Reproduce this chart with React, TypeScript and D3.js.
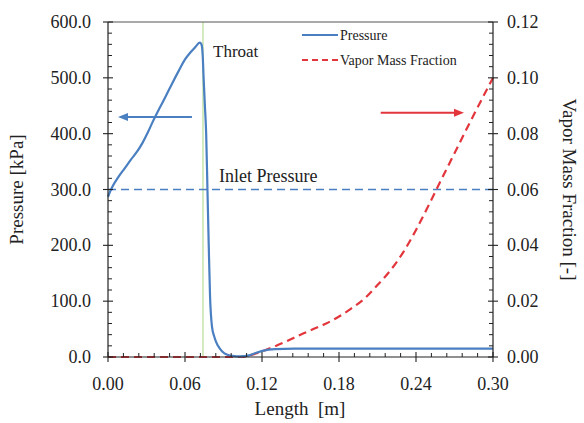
import React from "react";
import * as d3 from "d3";

// Axis ticks
const lengthTicks = [0, 0.06, 0.12, 0.18, 0.24, 0.3];
const pressureTicks = [0, 100, 200, 300, 400, 500, 600];
const fractionTicks = [0, 0.02, 0.04, 0.06, 0.08, 0.1, 0.12];

// Pressure along the nozzle [kPa]
const pressureLength = [
  0, 0.003, 0.008, 0.013, 0.018, 0.023, 0.027, 0.031, 0.035, 0.04, 0.045, 0.05,
  0.055, 0.06, 0.064, 0.068, 0.0715, 0.0728, 0.0738, 0.0745, 0.0755, 0.0765,
  0.0775, 0.0785, 0.0795, 0.081, 0.083, 0.0857, 0.089, 0.093, 0.097, 0.103,
  0.11, 0.116, 0.122, 0.13, 0.145, 0.3,
];
const pressureValues = [
  287, 303, 322, 338, 354, 369, 384, 402, 422, 445, 467, 490,
  512, 533, 545, 555, 563, 560, 540, 500, 450, 400,
  300, 200, 110, 55, 35, 20, 10, 4, 2, 1,
  3, 8, 12, 14, 15, 15,
];

// Vapor mass fraction along the nozzle [-]
const fractionLength = [
  0, 0.1, 0.105, 0.11, 0.12, 0.13, 0.14, 0.15, 0.16, 0.17, 0.18, 0.19, 0.2,
  0.21, 0.22, 0.23, 0.24, 0.25, 0.26, 0.27, 0.28, 0.29, 0.3,
];
const fractionValues = [
  0, 0, 0, 0.0005, 0.002, 0.0038, 0.0058, 0.008, 0.01, 0.012, 0.0145, 0.0175,
  0.021, 0.0258, 0.031, 0.0375, 0.0455, 0.0545, 0.0638, 0.073, 0.0822, 0.0912, 0.1,
];

const inletPressure = 300;
const throatLength = 0.074;

const BLUE = "#4a7fc1";
const RED = "#e2363c";
const FONT = '"Liberation Serif", "DejaVu Serif", "Times New Roman", Times, serif';
const TEXT = "#222";

export default function App() {
  const W = 584;
  const H = 423;
  const left = 108;
  const right = 493;
  const top = 22;
  const bottom = 357;

  const x = d3.scaleLinear().domain([0, 0.3]).range([left, right]);
  const yP = d3.scaleLinear().domain([0, 600]).range([bottom, top]);
  const yV = d3.scaleLinear().domain([0, 0.12]).range([bottom, top]);

  const pressurePts: [number, number][] = pressureLength.map((l, i) => [l, pressureValues[i]]);
  const fractionPts: [number, number][] = fractionLength.map((l, i) => [l, fractionValues[i]]);

  const pLine = d3
    .line<[number, number]>()
    .x((d) => x(d[0]))
    .y((d) => yP(d[1]))
    .curve(d3.curveMonotoneX);
  const vLine = d3
    .line<[number, number]>()
    .x((d) => x(d[0]))
    .y((d) => yV(d[1]))
    .curve(d3.curveMonotoneX);

  const minorP = d3.range(0, 601, 20).filter((v) => v % 100 !== 0);
  const minorV = d3.range(0, 121, 4).map((v) => v / 1000).filter((_, i) => i % 5 !== 0);
  const minorL = d3.range(0, 26).map((i) => i * 0.012).filter((_, i) => i % 5 !== 0);

  // arrows pointing to each series' axis
  const blueArrow = { x1: x(0.0654), x2: x(0.0078), y: yP(430) };
  const redArrow = { x1: x(0.2125), x2: x(0.2774), y: yV(0.0875) };

  const axisColor = "#222";
  const txt = { fontFamily: FONT };

  return (
    <svg
      width={W}
      height={H}
      style={{ position: "absolute", left: 0, top: 0, background: "#fff", fontFamily: FONT }}
    >
      <rect x={0} y={0} width={W} height={H} fill="#fff" />

      {/* throat marker */}
      <line x1={x(throatLength)} x2={x(throatLength)} y1={top} y2={bottom} stroke="#c9e6b0" strokeWidth={1.6} />

      {/* inlet pressure reference */}
      <line
        x1={x(0)}
        x2={x(0.3)}
        y1={yP(inletPressure)}
        y2={yP(inletPressure)}
        stroke={BLUE}
        strokeWidth={1.4}
        strokeDasharray="8,5"
      />
      <text x={219} y={yP(inletPressure) - 8} fontSize={18} fill={TEXT} style={txt}>
        Inlet Pressure
      </text>

      {/* series */}
      <path d={vLine(fractionPts) ?? ""} fill="none" stroke={RED} strokeWidth={2.2} strokeDasharray="8,5" />
      <path d={pLine(pressurePts) ?? ""} fill="none" stroke={BLUE} strokeWidth={2.2} />

      <text x={213} y={57} fontSize={17} fill={TEXT} style={txt}>
        Throat
      </text>

      {/* arrows */}
      <line x1={blueArrow.x1} x2={blueArrow.x2 + 8} y1={blueArrow.y} y2={blueArrow.y} stroke={BLUE} strokeWidth={2} />
      <path
        d={`M${blueArrow.x2},${blueArrow.y} L${blueArrow.x2 + 10},${blueArrow.y - 4} L${blueArrow.x2 + 10},${blueArrow.y + 4} Z`}
        fill={BLUE}
      />
      <line x1={redArrow.x1} x2={redArrow.x2 - 8} y1={redArrow.y} y2={redArrow.y} stroke={RED} strokeWidth={2} />
      <path
        d={`M${redArrow.x2},${redArrow.y} L${redArrow.x2 - 10},${redArrow.y - 4} L${redArrow.x2 - 10},${redArrow.y + 4} Z`}
        fill={RED}
      />

      {/* frame */}
      <line x1={left} x2={right} y1={top} y2={top} stroke="#555" strokeWidth={1.2} />
      <line x1={left} x2={right} y1={bottom} y2={bottom} stroke={axisColor} strokeWidth={1.2} />
      <line x1={left} x2={left} y1={top} y2={bottom} stroke={axisColor} strokeWidth={1.2} />
      <line x1={right} x2={right} y1={top} y2={bottom} stroke={axisColor} strokeWidth={1.2} />

      {/* left axis */}
      {pressureTicks.map((t) => (
        <g key={`p${t}`}>
          <line x1={left - 5} x2={left + 5} y1={yP(t)} y2={yP(t)} stroke={axisColor} strokeWidth={1.1} />
          <text x={91} y={yP(t) + 6} textAnchor="end" fontSize={18} fill={TEXT} style={txt}>
            {t.toFixed(1)}
          </text>
        </g>
      ))}
      {minorP.map((t) => (
        <line key={`pm${t}`} x1={left} x2={left + 4} y1={yP(t)} y2={yP(t)} stroke={axisColor} strokeWidth={1} />
      ))}

      {/* right axis */}
      {fractionTicks.map((t) => (
        <g key={`v${t}`}>
          <line x1={right - 5} x2={right + 5} y1={yV(t)} y2={yV(t)} stroke={axisColor} strokeWidth={1.1} />
          <text x={507} y={yV(t) + 6} textAnchor="start" fontSize={18} fill={TEXT} style={txt}>
            {t.toFixed(2)}
          </text>
        </g>
      ))}
      {minorV.map((t) => (
        <line key={`vm${t}`} x1={right - 4} x2={right} y1={yV(t)} y2={yV(t)} stroke={axisColor} strokeWidth={1} />
      ))}

      {/* bottom axis */}
      {lengthTicks.map((t) => (
        <g key={`l${t}`}>
          <line x1={x(t)} x2={x(t)} y1={bottom - 5} y2={bottom + 5} stroke={axisColor} strokeWidth={1.1} />
          <text x={x(t)} y={390} textAnchor="middle" fontSize={18} fill={TEXT} style={txt}>
            {t.toFixed(2)}
          </text>
        </g>
      ))}
      {minorL.map((t) => (
        <line key={`lm${t}`} x1={x(t)} x2={x(t)} y1={bottom - 4} y2={bottom} stroke={axisColor} strokeWidth={1} />
      ))}

      {/* axis titles */}
      <text x={300} y={415} textAnchor="middle" fontSize={19} fill={TEXT} style={{ ...txt, whiteSpace: "pre" }}>
        {"Length  [m]"}
      </text>
      <text
        transform={`translate(23, ${(top + bottom) / 2}) rotate(-90)`}
        textAnchor="middle"
        fontSize={19}
        fill={TEXT}
        style={txt}
      >
        Pressure [kPa]
      </text>
      <text
        transform={`translate(563, ${(top + bottom) / 2}) rotate(90)`}
        textAnchor="middle"
        fontSize={19}
        fill={TEXT}
        style={txt}
      >
        Vapor Mass Fraction [-]
      </text>

      {/* legend */}
      <line x1={302} x2={338} y1={35} y2={35} stroke={BLUE} strokeWidth={2} />
      <text x={340} y={40} fontSize={14} fill={TEXT} style={txt}>
        Pressure
      </text>
      <line x1={302} x2={338} y1={60} y2={60} stroke={RED} strokeWidth={2} strokeDasharray="6,4" />
      <text x={340} y={65} fontSize={14} fill={TEXT} style={txt}>
        Vapor Mass Fraction
      </text>
    </svg>
  );
}
